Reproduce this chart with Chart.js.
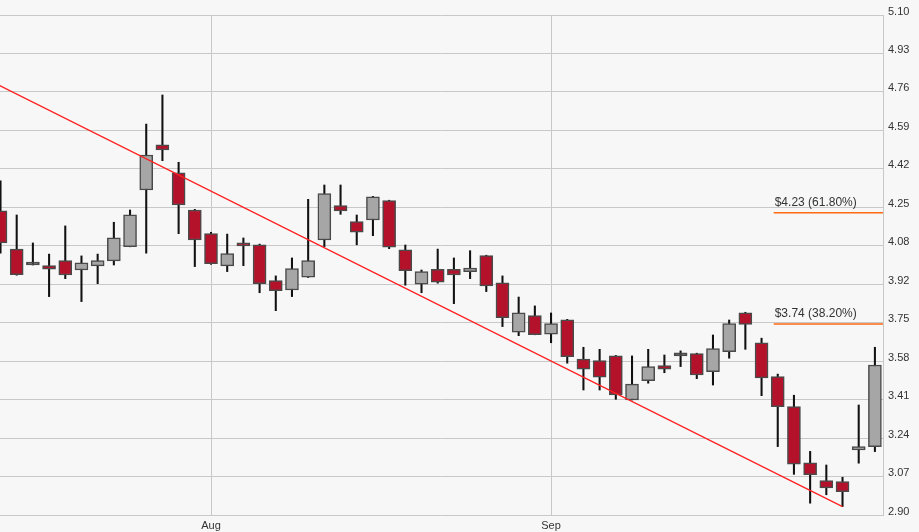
<!DOCTYPE html>
<html>
<head>
<meta charset="utf-8">
<script src="https://cdn.jsdelivr.net/npm/chart.js@4.4.1/dist/chart.umd.min.js"></script>
<style>
html,body{margin:0;padding:0;background:#f7f7f7;overflow:hidden;}
#wrap{width:919px;height:532px;position:relative;}
</style>
</head>
<body>
<div id="wrap"><canvas id="c" width="919" height="532"></canvas></div>
<script>
// ---- data ----
const dates = [
  '2014-07-15','2014-07-16','2014-07-17','2014-07-18','2014-07-21','2014-07-22','2014-07-23','2014-07-24','2014-07-25',
  '2014-07-28','2014-07-29','2014-07-30','2014-07-31',
  '2014-08-01','2014-08-04','2014-08-05','2014-08-06','2014-08-07','2014-08-08','2014-08-11','2014-08-12','2014-08-13',
  '2014-08-14','2014-08-15','2014-08-18','2014-08-19','2014-08-20','2014-08-21','2014-08-22','2014-08-25','2014-08-26',
  '2014-08-27','2014-08-28','2014-08-29',
  '2014-09-02','2014-09-03','2014-09-04','2014-09-05','2014-09-08','2014-09-09','2014-09-10','2014-09-11','2014-09-12',
  '2014-09-15','2014-09-16','2014-09-17','2014-09-18','2014-09-19','2014-09-22','2014-09-23','2014-09-24','2014-09-25',
  '2014-09-26','2014-09-29','2014-09-30'
];
const opens = [
  4.238,4.070,4.000,3.997,4.019,3.978,3.996,4.018,4.081,4.330,4.529,4.406,4.242,
  4.138,3.996,4.098,4.089,3.931,3.890,3.947,4.110,4.261,4.191,4.198,4.283,4.067,3.916,3.981,3.981,3.971,4.041,3.921,3.705,3.777,
  3.696,3.759,3.586,3.579,3.600,3.406,3.491,3.557,3.600,3.610,3.531,3.619,3.790,3.658,3.509,3.377,3.130,3.051,3.047,3.186,3.201
];
const highs = [
  4.370,4.220,4.097,4.048,4.172,4.040,4.048,4.188,4.242,4.620,4.748,4.452,4.245,
  4.144,4.136,4.119,4.092,3.952,4.031,4.289,4.352,4.352,4.220,4.302,4.285,4.088,3.978,4.070,4.031,4.063,4.043,3.952,3.859,3.820,
  3.789,3.761,3.638,3.629,3.602,3.600,3.629,3.604,3.622,3.612,3.692,3.758,3.792,3.678,3.520,3.427,3.180,3.120,3.066,3.384,3.638
];
const lows = [
  4.052,3.955,4.000,3.861,3.940,3.839,3.918,4.000,4.080,4.052,4.459,4.138,3.993,
  4.003,3.971,3.997,3.878,3.799,3.861,3.945,4.081,4.223,4.089,4.129,4.072,3.911,3.878,3.920,3.830,3.940,3.883,3.729,3.689,3.693,
  3.658,3.568,3.450,3.450,3.409,3.406,3.480,3.526,3.553,3.500,3.472,3.590,3.629,3.425,3.201,3.079,2.952,2.989,2.937,3.128,3.179
];
const closes = [
  4.097,3.957,4.000,3.982,3.956,4.010,4.019,4.120,4.221,4.484,4.506,4.264,4.110,
  4.006,4.050,4.084,3.918,3.887,3.984,4.019,4.314,4.238,4.145,4.300,4.079,3.975,3.971,3.924,3.956,3.986,3.908,3.768,3.790,3.693,
  3.742,3.597,3.542,3.507,3.428,3.476,3.553,3.542,3.600,3.516,3.632,3.742,3.739,3.503,3.377,3.124,3.077,3.019,3.003,3.201,3.560
];
const monthNames = ['Jan','Feb','Mar','Apr','May','Jun','Jul','Aug','Sep','Oct','Nov','Dec'];
const yTickLabels = ['2.90','3.07','3.24','3.41','3.58','3.75','3.92','4.08','4.25','4.42','4.59','4.76','4.93','5.10'];
const yMin = 2.90, yMax = 5.10;
const xMin = -0.031, xMax = 54.5;
// trend line (two anchor points: index, price)
const trendIdx = [-1, 52];
const trendPrice = [4.823, 2.937];
// Fibonacci retracement levels
const fibLevels = [4.23, 3.74];
const fibPcts = ['61.80%', '38.20%'];
const fibStartIdx = 47.75;

// ---- derived ----
const monthTicks = [];
dates.forEach((d, i) => {
  if (i > 0 && d.slice(5,7) !== dates[i-1].slice(5,7)) {
    monthTicks.push({value: i, label: monthNames[parseInt(d.slice(5,7),10)-1]});
  }
});
const UP = '#a6a6a6', DOWN = '#b3122a', DOJI = '#444444';
const bodyColors = opens.map((o,i) => closes[i] > o ? UP : (closes[i] < o ? DOWN : DOJI));
const bodies = opens.map((o,i) => ({x: i, y: [o, closes[i]]}));
const wicks = lows.map((l,i) => ({x: i, y: [l, highs[i]]}));

Chart.defaults.font.family = '"Liberation Sans", Arial, sans-serif';
Chart.defaults.font.size = 11;
Chart.defaults.color = '#333';

const fibPlugin = {
  id: 'fibText',
  afterDatasetsDraw(chart) {
    const {ctx, scales: {x, y}} = chart;
    ctx.save();
    ctx.font = '12px "Liberation Sans", Arial, sans-serif';
    ctx.fillStyle = '#333';
    ctx.textBaseline = 'bottom';
    ctx.textAlign = 'left';
    fibLevels.forEach((lv, i) => {
      ctx.fillText('$' + lv.toFixed(2) + ' (' + fibPcts[i] + ')', x.getPixelForValue(fibStartIdx) + 1, y.getPixelForValue(lv) - 4);
    });
    ctx.restore();
  }
};

const datasets = [
  {
    type: 'line', label: 'trend', order: 0, clip: 0,
    data: trendIdx.map((v,i) => ({x: v, y: trendPrice[i]})),
    borderColor: '#ff2020', borderWidth: 1.2, pointRadius: 0, fill: false
  }
];
fibLevels.forEach((lv) => {
  datasets.push({
    type: 'line', label: 'fib', order: 1, clip: 0,
    data: [{x: fibStartIdx, y: lv}, {x: xMax, y: lv}],
    borderColor: '#ff6a13', borderWidth: 1.5, pointRadius: 0, fill: false
  });
});
datasets.push({
  type: 'bar', label: 'body', order: 2, clip: 0, grouped: false,
  data: bodies, backgroundColor: bodyColors, borderColor: '#4a4a4a',
  borderWidth: 1.5, borderSkipped: false, barThickness: 13, minBarLength: 3
});
datasets.push({
  type: 'bar', label: 'wick', order: 3, clip: 0, grouped: false,
  data: wicks, backgroundColor: '#111111', borderWidth: 0, barThickness: 1.4
});

new Chart(document.getElementById('c'), {
  type: 'bar',
  data: { datasets },
  options: {
    responsive: false,
    animation: false,
    layout: { padding: { top: 15, left: 0, right: 0, bottom: 0 } },
    plugins: { legend: { display: false }, tooltip: { enabled: false } },
    scales: {
      x: {
        type: 'linear', position: 'bottom', min: xMin, max: xMax, offset: false,
        grid: { color: '#c8c8c8', drawTicks: false, lineWidth: 1, offset: false },
        border: { display: false },
        ticks: { padding: 4, maxRotation: 0, autoSkip: false, color: '#333', font: { size: 11 },
          callback: (v) => { const m = monthTicks.find(t => t.value === v); return m ? m.label : ''; } },
        afterBuildTicks: (s) => { s.ticks = monthTicks.map(t => ({value: t.value})); },
        afterFit: (s) => { s.height = 17; }
      },
      y: {
        type: 'linear', position: 'right', min: yMin, max: yMax,
        grid: { color: '#c8c8c8', drawTicks: false, lineWidth: 1 },
        border: { display: true, color: '#c8c8c8' },
        ticks: { padding: 5, labelOffset: -3.5, color: '#333', font: { size: 11 },
          callback: (v, i) => yTickLabels[i] },
        afterBuildTicks: (s) => {
          s.ticks = yTickLabels.map((_, i) => ({value: yMin + i * (yMax - yMin) / (yTickLabels.length - 1)}));
        },
        afterFit: (s) => { s.width = 36; }
      }
    }
  },
  plugins: [fibPlugin]
});
</script>
</body>
</html>
